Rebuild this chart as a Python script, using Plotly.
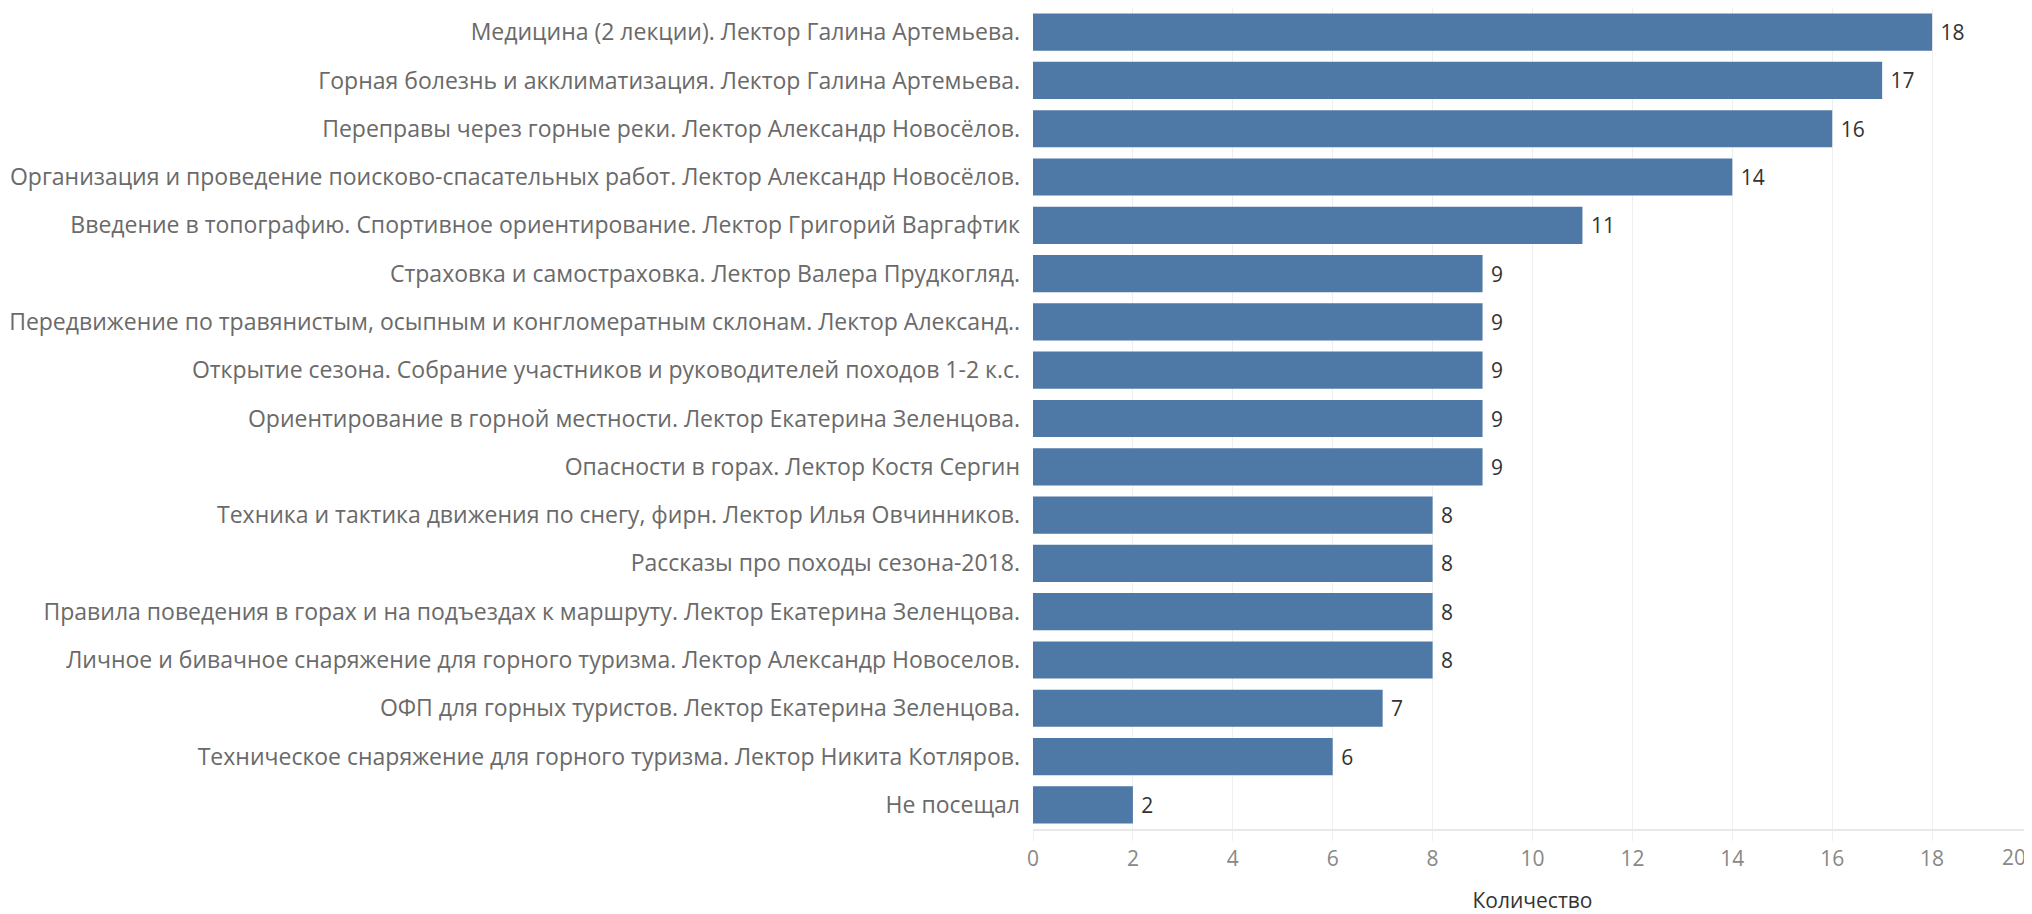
import plotly.graph_objects as go

lectures = [
    "Медицина (2 лекции). Лектор Галина Артемьева.",
    "Горная болезнь и акклиматизация. Лектор Галина Артемьева.",
    "Переправы через горные реки. Лектор Александр Новосёлов.",
    "Организация и проведение поисково-спасательных работ. Лектор Александр Новосёлов.",
    "Введение в топографию. Спортивное ориентирование. Лектор Григорий Варгафтик",
    "Страховка и самостраховка. Лектор Валера Прудкогляд.",
    "Передвижение по травянистым, осыпным и конгломератным склонам. Лектор Александ..",
    "Открытие сезона. Собрание участников и руководителей походов 1-2 к.с.",
    "Ориентирование в горной местности. Лектор Екатерина Зеленцова.",
    "Опасности в горах. Лектор Костя Сергин",
    "Техника и тактика движения по снегу, фирн. Лектор Илья Овчинников.",
    "Рассказы про походы сезона-2018.",
    "Правила поведения в горах и на подъездах к маршруту. Лектор Екатерина Зеленцова.",
    "Личное и бивачное снаряжение для горного туризма. Лектор Александр Новоселов.",
    "ОФП для горных туристов. Лектор Екатерина Зеленцова.",
    "Техническое снаряжение для горного туризма. Лектор Никита Котляров.",
    "Не посещал",
]
counts = [18, 17, 16, 14, 11, 9, 9, 9, 9, 9, 8, 8, 8, 8, 7, 6, 2]
x_ticks = [0, 2, 4, 6, 8, 10, 12, 14, 16, 18]
x_max = 20
x_title = "Количество"

FONT = "Open Sans"
# page body has an 8px default margin; figure size compensates
W, H = 2024, 906

fig = go.Figure(go.Bar(
    x=counts,
    y=lectures,
    orientation="h",
    marker=dict(color="#4e79a7", line=dict(width=0)),
    width=0.77,
    text=[" " + str(c) for c in counts],
    textposition="outside",
    textfont=dict(family=FONT, size=21, color="#333333"),
    cliponaxis=False,
    hoverinfo="x+y",
))

fig.update_layout(
    width=W, height=H,
    margin=dict(l=1025, r=0, t=0, b=85),
    paper_bgcolor="white",
    plot_bgcolor="white",
    showlegend=False,
    font=dict(family=FONT, size=20, color="#666666"),
)

fig.update_yaxes(
    autorange="reversed",
    showgrid=False,
    showline=False,
    ticks="",
    ticklabelstandoff=12,
    tickfont=dict(family=FONT, size=23, color="#6a6a6a"),
    automargin=False,
)

fig.update_xaxes(
    range=[0, x_max],
    tickvals=x_ticks,
    showgrid=True,
    gridcolor="#efefef",
    gridwidth=1,
    zeroline=False,
    showline=True,
    linecolor="#e8e8e8",
    linewidth=2,
    ticks="outside",
    ticklen=10,
    tickcolor="#efefef",
    tickfont=dict(family=FONT, size=21, color="#888888"),
    ticklabelstandoff=0,
    title=dict(text=x_title, font=dict(family=FONT, size=21, color="#333333"), standoff=30),
    automargin=False,
)

fig.add_annotation(
    x=x_max, y=0, xref="x", yref="paper",
    text=str(x_max), showarrow=False,
    xanchor="right", yanchor="top", yshift=-12, xshift=-4,
    font=dict(family=FONT, size=21, color="#888888"),
)

fig.write_html("out.html")
